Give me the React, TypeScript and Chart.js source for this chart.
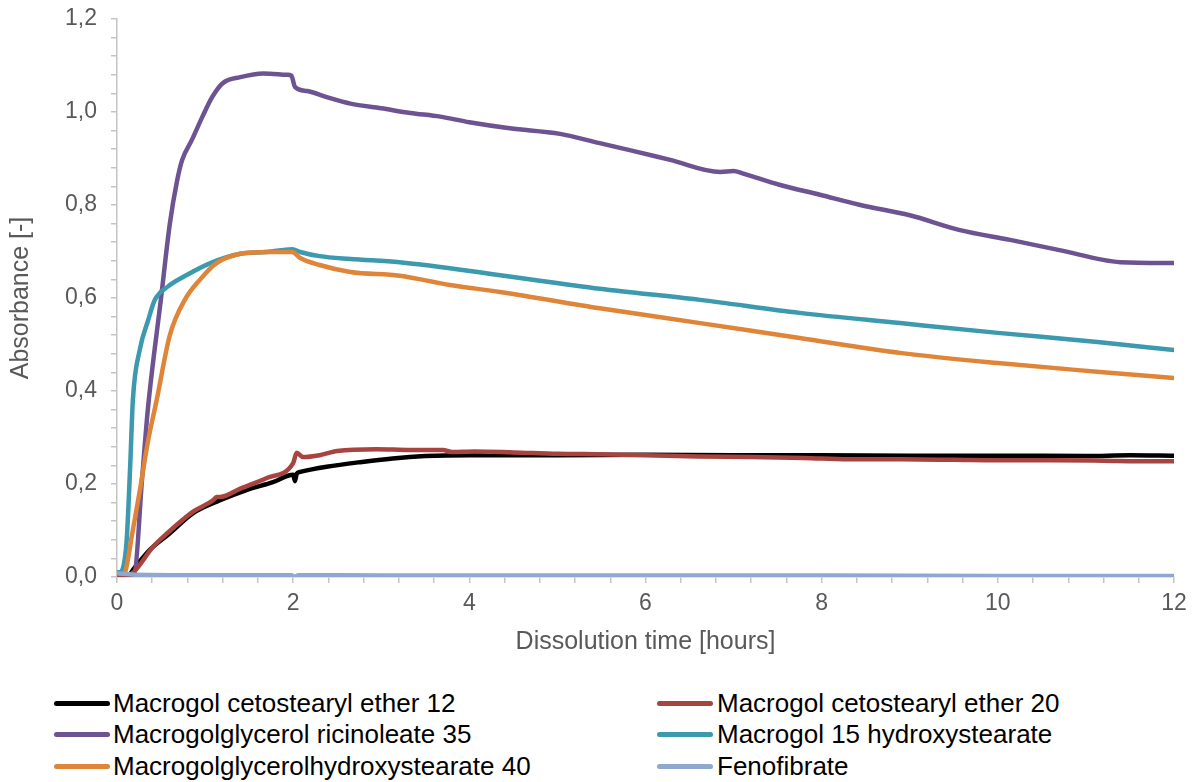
import React, { useEffect, useRef } from "react";
import { Chart, registerables } from "chart.js";

Chart.register(...registerables);

// ---- Data (time in hours, absorbance) ----
const seriesNames = [
  "Macrogol cetostearyl ether 12",
  "Macrogol cetostearyl ether 20",
  "Macrogolglycerol ricinoleate 35",
  "Macrogol 15 hydroxystearate",
  "Macrogolglycerolhydroxystearate 40",
  "Fenofibrate",
];
const seriesColors = ["#000000", "#a8443f", "#6d5391", "#3c99ae", "#df8539", "#8ea8cf"];

const ether12T = [0, 0.11, 0.2, 0.37, 0.6, 0.86, 1.17, 1.47, 1.77, 2.0, 2.02, 2.04, 2.08, 2.38, 2.76, 3.13, 3.5, 4.0, 5, 6, 7, 8, 9, 10, 11, 11.5, 12];
const ether12V = [0, 0, 0.02, 0.058, 0.094, 0.137, 0.165, 0.187, 0.204, 0.22, 0.206, 0.222, 0.226, 0.237, 0.247, 0.255, 0.26, 0.262, 0.262, 0.263, 0.262, 0.262, 0.261, 0.261, 0.26, 0.262, 0.261];

const ether20T = [0, 0.17, 0.41, 0.57, 0.86, 1.09, 1.13, 1.17, 1.4, 1.7, 2.0, 2.04, 2.11, 2.3, 2.5, 2.95, 3.33, 3.7, 3.8, 4.06, 4.5, 5.0, 5.5, 6.0, 6.6, 7.2, 7.8, 8.3, 8.9, 9.5, 10.0, 10.6, 11.2, 11.6, 12];
const ether20V = [0, 0.008, 0.065, 0.094, 0.14, 0.165, 0.172, 0.172, 0.19, 0.213, 0.245, 0.267, 0.258, 0.262, 0.271, 0.275, 0.273, 0.273, 0.269, 0.27, 0.268, 0.265, 0.264, 0.262, 0.259, 0.258, 0.256, 0.253, 0.253, 0.252, 0.251, 0.251, 0.25, 0.249, 0.249];

const ricinoleateT = [0, 0.1, 0.2, 0.28, 0.35, 0.5, 0.6, 0.68, 0.74, 0.85, 0.97, 1.08, 1.2, 1.4, 1.66, 1.93, 1.98, 2.02, 2.16, 2.38, 2.65, 3.0, 3.33, 3.67, 4.0, 4.46, 5.03, 5.48, 5.82, 6.28, 6.85, 7.0, 7.1, 7.53, 7.98, 8.44, 9.0, 9.57, 10.14, 10.7, 11.39, 12];
const ricinoleateV = [0, 0.002, 0.01, 0.2, 0.36, 0.6, 0.76, 0.85, 0.897, 0.94, 0.99, 1.032, 1.062, 1.075, 1.083, 1.08, 1.078, 1.054, 1.045, 1.032, 1.018, 1.008, 0.998, 0.99, 0.978, 0.965, 0.953, 0.933, 0.918, 0.897, 0.871, 0.873, 0.868, 0.843, 0.822, 0.8, 0.778, 0.746, 0.725, 0.703, 0.677, 0.675];

const hydroxy15T = [0, 0.03, 0.06, 0.11, 0.15, 0.18, 0.26, 0.35, 0.43, 0.58, 0.75, 1.06, 1.4, 1.7, 1.99, 2.08, 2.3, 2.65, 3.21, 4.35, 5.48, 6.62, 7.75, 8.89, 10.0, 11.16, 12];
const hydroxy15V = [0.01, 0.01, 0.015, 0.08, 0.24, 0.38, 0.49, 0.55, 0.596, 0.625, 0.645, 0.675, 0.695, 0.699, 0.705, 0.699, 0.69, 0.684, 0.677, 0.649, 0.62, 0.596, 0.568, 0.546, 0.525, 0.505, 0.488];

const hydroxy40T = [0, 0.09, 0.17, 0.26, 0.35, 0.45, 0.6, 0.77, 0.94, 1.13, 1.4, 1.7, 1.99, 2.08, 2.3, 2.65, 3.21, 3.78, 4.35, 5.48, 6.62, 7.75, 8.89, 10.0, 11.16, 12];
const hydroxy40V = [0, 0.01, 0.09, 0.187, 0.29, 0.38, 0.52, 0.596, 0.639, 0.675, 0.695, 0.699, 0.699, 0.686, 0.671, 0.656, 0.648, 0.628, 0.613, 0.578, 0.546, 0.514, 0.482, 0.46, 0.441, 0.428];

const fenoT = [0, 0.2, 1, 1.98, 2.02, 2.06, 3, 4, 6, 8, 10, 12];
const fenoV = [0.008, 0.005, 0.004, 0.004, 0.0, 0.004, 0.003, 0.003, 0.003, 0.003, 0.002, 0.002];

const seriesTimes = [ether12T, ether20T, ricinoleateT, hydroxy15T, hydroxy40T, fenoT];
const seriesValues = [ether12V, ether20V, ricinoleateV, hydroxy15V, hydroxy40V, fenoV];
const drawOrder = [5, 1, 4, 3, 2, 0];

const xTitle = "Dissolution time [hours]";
const yTitle = "Absorbance [-]";

const FONT = "'Liberation Sans', Arial, sans-serif";
const AXIS_COLOR = "#c4c4c4";
const TEXT_COLOR = "#595959";

export default function App() {
  const canvasRef = useRef<HTMLCanvasElement | null>(null);

  useEffect(() => {
    if (!canvasRef.current) return;
    const datasets = seriesNames.map((name, i) => ({
      label: name,
      data: seriesTimes[i].map((t, j) => ({ x: t, y: seriesValues[i][j] })),
      borderColor: seriesColors[i],
      backgroundColor: seriesColors[i],
      borderWidth: 4.5,
      pointRadius: 0,
      cubicInterpolationMode: "monotone" as const,
      order: drawOrder[i],
      borderCapStyle: "round" as const,
      borderJoinStyle: "round" as const,
    }));

    const chart = new Chart(canvasRef.current, {
      type: "line",
      data: { datasets },
      options: {
        animation: false,
        responsive: false,
        devicePixelRatio: 1,
        layout: { padding: { left: 0, top: 19, right: 21, bottom: 0 } },
        plugins: { legend: { display: false }, tooltip: { enabled: false } },
        scales: {
          x: {
            type: "linear",
            min: 0,
            max: 12,
            afterFit: (scale: any) => {
              scale.height = 90;
            },
            border: { color: AXIS_COLOR, width: 1.5 },
            grid: {
              drawOnChartArea: false,
              drawTicks: true,
              tickLength: 6,
              color: AXIS_COLOR,
              lineWidth: 1.5,
            },
            ticks: {
              stepSize: 0.4,
              autoSkip: false,
              maxRotation: 0,
              padding: 7,
              color: TEXT_COLOR,
              font: { family: FONT, size: 23 },
              callback: (v: any) => {
                const n = Number(v);
                return Math.round(n / 0.4) % 5 === 0 ? String(Math.round(n)) : "";
              },
            },
            title: {
              display: true,
              text: xTitle,
              color: TEXT_COLOR,
              font: { family: FONT, size: 25 },
              padding: { top: 0, bottom: 10 },
            },
          },
          y: {
            type: "linear",
            min: 0,
            max: 1.2,
            afterFit: (scale: any) => {
              scale.width = 117;
              scale.paddingTop = 0;
              scale.paddingBottom = 0;
            },
            border: { color: AXIS_COLOR, width: 1.5 },
            grid: {
              drawOnChartArea: false,
              drawTicks: true,
              tickLength: 6,
              color: AXIS_COLOR,
              lineWidth: 1.5,
            },
            ticks: {
              stepSize: 0.04,
              autoSkip: false,
              padding: 14,
              color: TEXT_COLOR,
              font: { family: FONT, size: 23 },
              callback: (v: any) => {
                const n = Number(v);
                return Math.round(n / 0.04) % 5 === 0 ? n.toFixed(1).replace(".", ",") : "";
              },
            },
            title: {
              display: true,
              text: yTitle,
              color: TEXT_COLOR,
              font: { family: FONT, size: 25 },
              padding: { top: 6, bottom: 0 },
            },
          },
        },
      },
    });
    return () => chart.destroy();
  }, []);

  const legendRows = [
    [0, 1],
    [2, 3],
    [4, 5],
  ];
  const rowY = [703, 734, 766];
  const colLineX = [54, 657];
  const colTextX = [113, 717];

  return (
    <div style={{ position: "fixed", left: 0, top: 0, width: 1195, height: 782, background: "#ffffff" }}>
      <canvas ref={canvasRef} width={1195} height={667} style={{ position: "absolute", left: 0, top: 0 }} />
      {legendRows.map((row, r) =>
        row.map((idx, c) => (
          <div key={idx}>
            <div
              style={{
                position: "absolute",
                left: colLineX[c],
                top: rowY[r] - 2.5,
                width: 56,
                height: 5,
                borderRadius: 2.5,
                background: seriesColors[idx],
              }}
            />
            <div
              style={{
                position: "absolute",
                left: colTextX[c],
                top: rowY[r] - 16,
                height: 32,
                lineHeight: "32px",
                fontFamily: FONT,
                fontSize: 26,
                color: "#000000",
                whiteSpace: "nowrap",
              }}
            >
              {seriesNames[idx]}
            </div>
          </div>
        ))
      )}
    </div>
  );
}
